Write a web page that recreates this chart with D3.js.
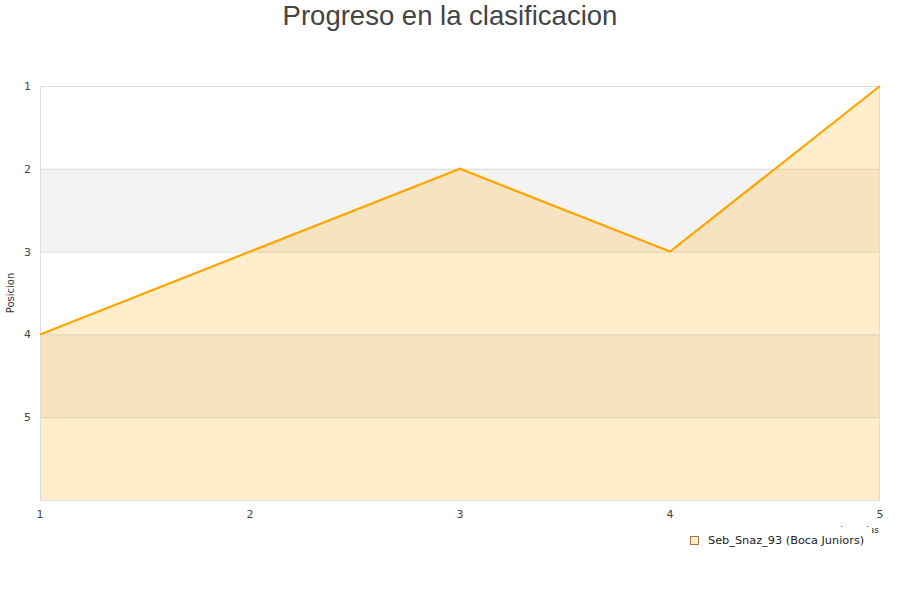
<!DOCTYPE html>
<html><head><meta charset="utf-8">
<script src="https://cdn.jsdelivr.net/npm/d3@7"></script>
<style>body{margin:0;background:#fff;font-family:"DejaVu Sans",sans-serif;}</style>
</head><body>
<svg id="c" width="900" height="600"></svg>
<script>
const jornadas = [1, 2, 3, 4, 5];
const posiciones = [4, 3, 2, 3, 1];
const yTicks = [1, 2, 3, 4, 5];
const seriesName = "Seb_Snaz_93 (Boca Juniors)";
const title = "Progreso en la clasificacion";

const svg = d3.select("#c");
const L = 40, R = 880, T = 86, B = 500;
const x = d3.scaleLinear().domain([1, 5]).range([L, R]);
const y = d3.scaleLinear().domain([1, 6]).range([T, B]);

// bands
const bands = [[2, 3], [4, 5]];
svg.selectAll("rect.band").data(bands).enter().append("rect")
  .attr("x", L).attr("width", R - L)
  .attr("y", d => y(d[0])).attr("height", d => y(d[1]) - y(d[0]))
  .attr("fill", "#f3f3f3");

// grid lines
svg.selectAll("line.grid").data(yTicks).enter().append("line")
  .attr("x1", L).attr("x2", R)
  .attr("y1", d => y(d) + 0.5).attr("y2", d => y(d) + 0.5)
  .attr("stroke", "#dddddd").attr("stroke-width", 1);

const pts = jornadas.map((j, i) => [j, posiciones[i]]);
const area = d3.area().x(d => x(d[0])).y0(y(6)).y1(d => y(d[1]));
svg.append("path").datum(pts).attr("d", area).attr("fill", "rgba(255,165,0,0.2)");

// border
svg.append("rect").attr("x", L + 0.5).attr("y", T + 0.5).attr("width", R - L - 1).attr("height", B - T)
  .attr("fill", "none").attr("stroke", "#dddddd");

const line = d3.line().x(d => x(d[0])).y(d => y(d[1]));
svg.append("path").datum(pts).attr("d", line).attr("fill", "none")
  .attr("stroke", "#ffa500").attr("stroke-width", 2.2);

// y tick labels
svg.selectAll("text.yt").data(yTicks).enter().append("text")
  .attr("x", 31).attr("y", d => y(d) + 4).attr("text-anchor", "end")
  .attr("font-size", 11).attr("fill", "#444").text(d => d);
// x tick labels
svg.selectAll("text.xt").data(jornadas).enter().append("text")
  .attr("x", d => x(d)).attr("y", 518).attr("text-anchor", "middle")
  .attr("font-size", 11).attr("fill", "#444").text(d => d);

// axis titles
svg.append("text").attr("transform", "translate(14,293) rotate(-90)")
  .attr("text-anchor", "middle").attr("font-size", 10).attr("fill", "#333").text("Posicion");
svg.append("text").attr("x", 879).attr("y", 533).attr("text-anchor", "end")
  .attr("font-size", 9).attr("fill", "#333").text("Jornadas");

// title
svg.append("text").attr("x", 450).attr("y", 25).attr("text-anchor", "middle")
  .attr("font-family", "'Liberation Sans', Arial, sans-serif")
  .attr("font-size", 27.5).attr("fill", "#444").text(title);

// legend
const lg = svg.append("g");
lg.append("rect").attr("x", 682).attr("y", 527).attr("width", 190).attr("height", 25).attr("fill", "#fff");
lg.append("rect").attr("x", 690.5).attr("y", 536.5).attr("width", 8).attr("height", 8)
  .attr("fill", "#ffedcc").attr("stroke", "#a07a40").attr("stroke-width", 1);
lg.append("text").attr("x", 708).attr("y", 544).attr("font-size", 11.3).attr("fill", "#222").text(seriesName);
</script>
</body></html>
